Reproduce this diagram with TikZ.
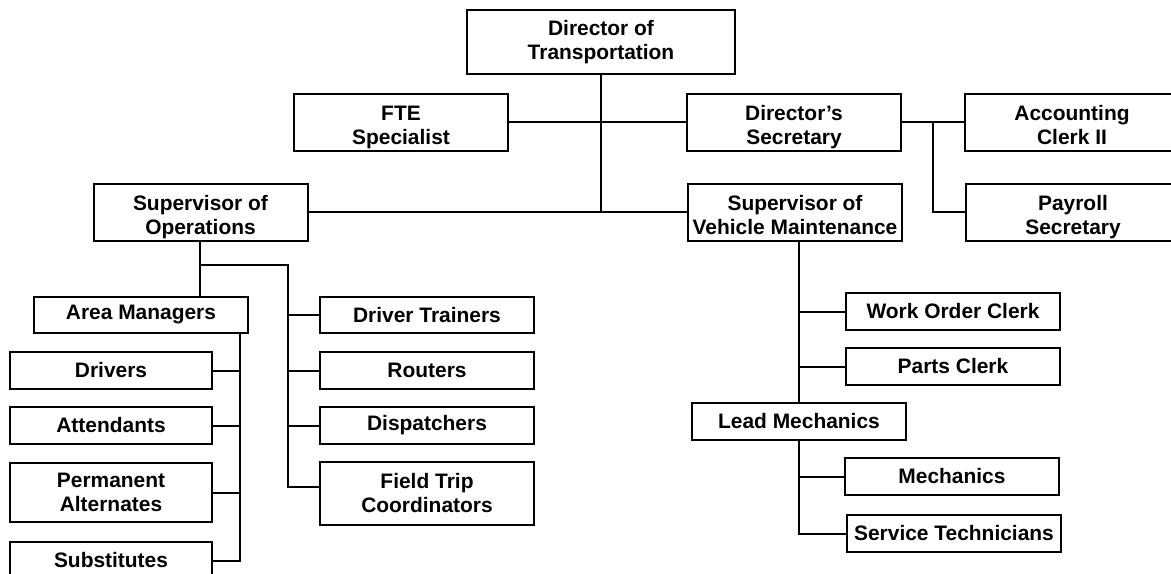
\documentclass[tikz,border=0pt]{standalone}
\usepackage{fontspec}
\setmainfont{Liberation Sans}
\begin{document}
\begin{tikzpicture}[x=0.75pt,y=-0.75pt,
  box/.style={draw=black, line width=1.5pt, fill=white, inner sep=0pt,
    align=center, font=\bfseries\fontsize{15.7}{18}\selectfont},
  wide/.style={minimum width=160.5pt},
  narrow/.style={minimum width=151.5pt},
  one/.style={minimum height=27.5pt},
  two/.style={minimum height=42.75pt},
  % sets the two text lines a little below the box centre
  drop/.style={text height=37pt, text depth=3.3pt},
  link/.style={line width=1.5pt}]
\useasboundingbox (0,0) rectangle (1171,574);

% top level and staff
\node[box, minimum width=201pt, minimum height=48pt] (dir) at (601,42) {Director of\\Transportation};
\node[box, wide, two, drop] (fte)  at (401,122.5) {FTE\\Specialist};
\node[box, wide, two, drop] (dsec) at (794,122.5) {Director’s\\Secretary};
\node[box, wide, two, drop] (acct) at (1072,122.5) {Accounting\\Clerk II};
\node[box, wide, two, drop] (pay)  at (1073,212.5) {Payroll\\Secretary};

% supervisors
\node[box, wide, two, drop] (supops) at (200.5,212.5) {Supervisor of\\Operations};
\node[box, wide, two, drop] (supvm)  at (795,212.5) {Supervisor of\\Vehicle Maintenance};

% operations branch
\node[box, wide, one] (am) at (141,315) {Area Managers};
\node[box, narrow, one] (drivers) at (111,370.5) {Drivers};
\node[box, narrow, one] (attend)  at (111,425.5) {Attendants};
\node[box, narrow, minimum height=44.25pt] (perm) at (111,492.5) {Permanent\\Alternates};
\node[box, narrow, one] (subst) at (111,560.5) {Substitutes};

\node[box, wide, one] (dtrain)  at (427,315) {Driver Trainers};
\node[box, wide, one] (routers) at (427,370.5) {Routers};
\node[box, wide, one] (disp)    at (427,425.5) {Dispatchers};
\node[box, wide, minimum height=47.25pt] (ftrip) at (427,493.5) {Field Trip\\Coordinators};

% maintenance branch
\node[box, wide, one] (woc)   at (953,311.5) {Work Order Clerk};
\node[box, wide, one] (parts) at (953,366.5) {Parts Clerk};
\node[box, wide, one] (lead)  at (799,421.5) {Lead Mechanics};
\node[box, wide, one] (mech)  at (952,476.5) {Mechanics};
\node[box, wide, one] (serv)  at (954,533.5) {Service Technicians};

% junction points
\coordinate (jx) at (933,122.5);
\coordinate (b1) at (200,265);
\coordinate (rv) at (288,265);
\coordinate (amv) at (240,333);

% director level
\draw[link] (dir.south) -- (dir.south |- supops.east);
\draw[link] (fte.east) -- (dsec.west);
\draw[link] (supops.east) -- (supvm.west);
\draw[link] (dsec.east) -- (acct.west);
\draw[link] (jx) |- (pay.west);

% operations
\draw[link] (b1 |- supops.south) -- (b1 |- am.north);
\draw[link] (b1) -- (rv) |- ([yshift=4.9pt]ftrip.west);
\draw[link] (rv |- dtrain.west) -- (dtrain.west);
\draw[link] (rv |- routers.west) -- (routers.west);
\draw[link] (rv |- disp.west) -- (disp.west);
\draw[link] (amv) |- (subst.east);
\draw[link] (drivers.east) -- (drivers.east -| amv);
\draw[link] (attend.east) -- (attend.east -| amv);
\draw[link] (perm.east) -- (perm.east -| amv);

% maintenance
\draw[link] (lead.north |- supvm.south) -- (lead.north);
\draw[link] (woc.west -| lead.north) -- (woc.west);
\draw[link] (parts.west -| lead.north) -- (parts.west);
\draw[link] (lead.south) |- (serv.west);
\draw[link] (mech.west -| lead.south) -- (mech.west);
\end{tikzpicture}
\end{document}
